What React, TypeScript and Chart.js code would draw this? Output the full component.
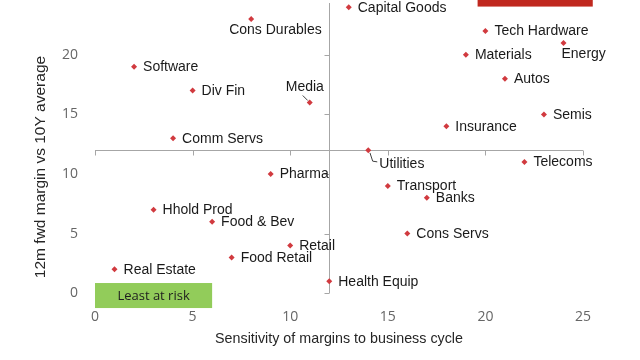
import React, { useEffect, useRef } from 'react';
import { Chart, registerables } from 'chart.js';

Chart.register(...registerables);

// ---- data ----
const sectors = [
  'Capital Goods', 'Cons Durables', 'Tech Hardware', 'Energy', 'Materials', 'Software',
  'Autos', 'Div Fin', 'Media', 'Semis', 'Insurance', 'Comm Servs', 'Utilities', 'Telecoms',
  'Pharma', 'Transport', 'Banks', 'Hhold Prod', 'Food & Bev', 'Cons Servs', 'Retail',
  'Food Retail', 'Real Estate', 'Health Equip',
];
const sensitivity = [13, 8, 20, 24, 19, 2, 21, 5, 11, 23, 18, 4, 14, 22, 9, 15, 17, 3, 6, 16, 10, 7, 1, 12];
const marginVs10Y = [24, 23, 22, 21, 20, 19, 18, 17, 16, 15, 14, 13, 12, 11, 10, 9, 8, 7, 6, 5, 4, 3, 2, 1];
const xTicks = [0, 5, 10, 15, 20, 25];
const yTicks = [0, 5, 10, 15, 20];
const xTitle = 'Sensitivity of margins to business cycle';
const yTitle = '12m fwd margin vs 10Y average';
const crossAt = { x: 12, y: 12 };
const leastBox = { text: 'Least at risk', x0: 0, x1: 6, y0: -1.25, y1: 0.85 };
const mostBox = { x0: 19.6, x1: 25.5, y0: 24.05, y1: 27 };

// label placement tweaks (pixel offsets of the label's left/middle from the point)
const labelOffsets: Record<string, [number, number]> = {
  'Cons Durables': [-22, 11],
  'Energy': [-2, 11],
  'Media': [-24, -15],
  'Utilities': [11, 14],
};
const leaders: Record<string, [number, number][]> = {
  'Media': [[-7, -7], [-2, -2]],
  'Utilities': [[1.7, 2.7], [4.4, 11], [9, 11.7]],
};

const AXIS = '#a6a6a6';
const POINT = '#d13a3f';
const LABEL_FONT = '14px "Liberation Sans", Arial, sans-serif';

const overlayPlugin = {
  id: 'overlay',
  beforeDatasetsDraw(chart: any) {
    const { ctx, scales } = chart;
    const xs = scales.x, ys = scales.y;
    ctx.save();
    // boxes
    const gx0 = xs.getPixelForValue(leastBox.x0), gx1 = xs.getPixelForValue(leastBox.x1);
    const gy0 = ys.getPixelForValue(leastBox.y1), gy1 = ys.getPixelForValue(leastBox.y0);
    ctx.fillStyle = '#92cc5a';
    ctx.fillRect(gx0, gy0, gx1 - gx0, gy1 - gy0);
    ctx.fillStyle = '#1e1e1e';
    ctx.font = '13px "Open Sans", sans-serif';
    ctx.textAlign = 'center';
    ctx.textBaseline = 'middle';
    ctx.fillText(leastBox.text, (gx0 + gx1) / 2, (gy0 + gy1) / 2 + 1);

    const rx0 = xs.getPixelForValue(mostBox.x0), rx1 = xs.getPixelForValue(mostBox.x1);
    const ry0 = ys.getPixelForValue(mostBox.y1), ry1 = ys.getPixelForValue(mostBox.y0);
    ctx.fillStyle = '#c0281f';
    ctx.fillRect(rx0, ry0, rx1 - rx0, ry1 - ry0);

    // crossing axes
    ctx.strokeStyle = AXIS;
    ctx.lineWidth = 1;
    const hy = Math.round(ys.getPixelForValue(crossAt.y)) + 0.5;
    const hx0 = xs.getPixelForValue(xTicks[0]);
    const hx1 = xs.getPixelForValue(xTicks[xTicks.length - 1]);
    ctx.beginPath();
    ctx.moveTo(hx0, hy);
    ctx.lineTo(hx1, hy);
    xTicks.forEach((t) => {
      const px = Math.round(xs.getPixelForValue(t)) + 0.5;
      ctx.moveTo(px, hy);
      ctx.lineTo(px, hy + 5);
    });
    const vx = Math.round(xs.getPixelForValue(crossAt.x)) + 0.5;
    const vy0 = ys.getPixelForValue(yTicks[0]);
    ctx.moveTo(vx, vy0);
    ctx.lineTo(vx, chart.chartArea.top);
    yTicks.forEach((t) => {
      const py = Math.round(ys.getPixelForValue(t)) + 0.5;
      ctx.moveTo(vx, py);
      ctx.lineTo(vx - 5, py);
    });
    ctx.stroke();

    // axis titles
    ctx.fillStyle = '#262626';
    ctx.font = '14.3px "Liberation Sans", Arial, sans-serif';
    ctx.textAlign = 'center';
    ctx.textBaseline = 'middle';
    ctx.fillText(xTitle, (chart.chartArea.left + chart.chartArea.right) / 2, 339);
    ctx.save();
    ctx.translate(41, 167);
    ctx.rotate(-Math.PI / 2);
    ctx.font = '15.5px "Liberation Sans", Arial, sans-serif';
    ctx.fillText(yTitle, 0, 0);
    ctx.restore();
    ctx.restore();
  },
  afterDatasetsDraw(chart: any) {
    const { ctx, scales } = chart;
    ctx.save();
    ctx.font = LABEL_FONT;
    ctx.fillStyle = '#1a1a1a';
    ctx.textAlign = 'left';
    ctx.textBaseline = 'middle';
    sectors.forEach((name, i) => {
      const px = scales.x.getPixelForValue(sensitivity[i]);
      const py = scales.y.getPixelForValue(marginVs10Y[i]);
      const off = labelOffsets[name] || [9, 0.5];
      ctx.fillText(name, px + off[0], py + off[1]);
      const ld = leaders[name];
      if (ld) {
        ctx.strokeStyle = '#404040';
        ctx.lineWidth = 1;
        ctx.beginPath();
        ld.forEach(([dx, dy], k) => {
          if (k === 0) ctx.moveTo(px + dx, py + dy);
          else ctx.lineTo(px + dx, py + dy);
        });
        ctx.stroke();
      }
    });
    ctx.restore();
  },
};

export default function App() {
  const ref = useRef<HTMLCanvasElement>(null);
  useEffect(() => {
    if (!ref.current) return;
    const chart = new Chart(ref.current, {
      type: 'scatter',
      data: {
        datasets: [
          {
            label: 'Sectors',
            data: sectors.map((_, i) => ({ x: sensitivity[i], y: marginVs10Y[i] })),
            pointStyle: 'rectRot',
            pointRadius: 3,
            pointHoverRadius: 3,
            backgroundColor: POINT,
            borderColor: POINT,
            borderWidth: 0,
          },
        ],
      },
      options: {
        animation: false,
        responsive: true,
        maintainAspectRatio: false,
        layout: { padding: { top: 0, right: 57, bottom: 0, left: 0 } },
        plugins: { legend: { display: false }, tooltip: { enabled: false } },
        scales: {
          x: {
            type: 'linear',
            min: 0,
            max: 25,
            grid: { display: false, drawTicks: false },
            border: { display: false },
            afterBuildTicks: (s: any) => { s.ticks = xTicks.map((v) => ({ value: v })); },
            afterFit: (s: any) => { s.height = 51; s.paddingLeft = 0; s.paddingRight = 0; },
            ticks: {
              padding: 0,
              color: '#666666',
              font: { family: '"Open Sans", sans-serif', size: 14 },
            },
          },
          y: {
            type: 'linear',
            min: -1.33,
            max: 24.35,
            grid: { display: false, drawTicks: false },
            border: { display: false },
            afterBuildTicks: (s: any) => { s.ticks = yTicks.map((v) => ({ value: v })); },
            afterFit: (s: any) => { s.width = 95; s.paddingTop = 0; s.paddingBottom = 0; },
            ticks: {
              padding: 17,
              color: '#666666',
              font: { family: '"Open Sans", sans-serif', size: 14 },
            },
          },
        },
      },
      plugins: [overlayPlugin],
    });
    return () => chart.destroy();
  }, []);
  return (
    <div style={{ position: 'fixed', left: 0, top: 0, width: 640, height: 360, background: '#fff' }}>
      <canvas ref={ref} />
    </div>
  );
}
